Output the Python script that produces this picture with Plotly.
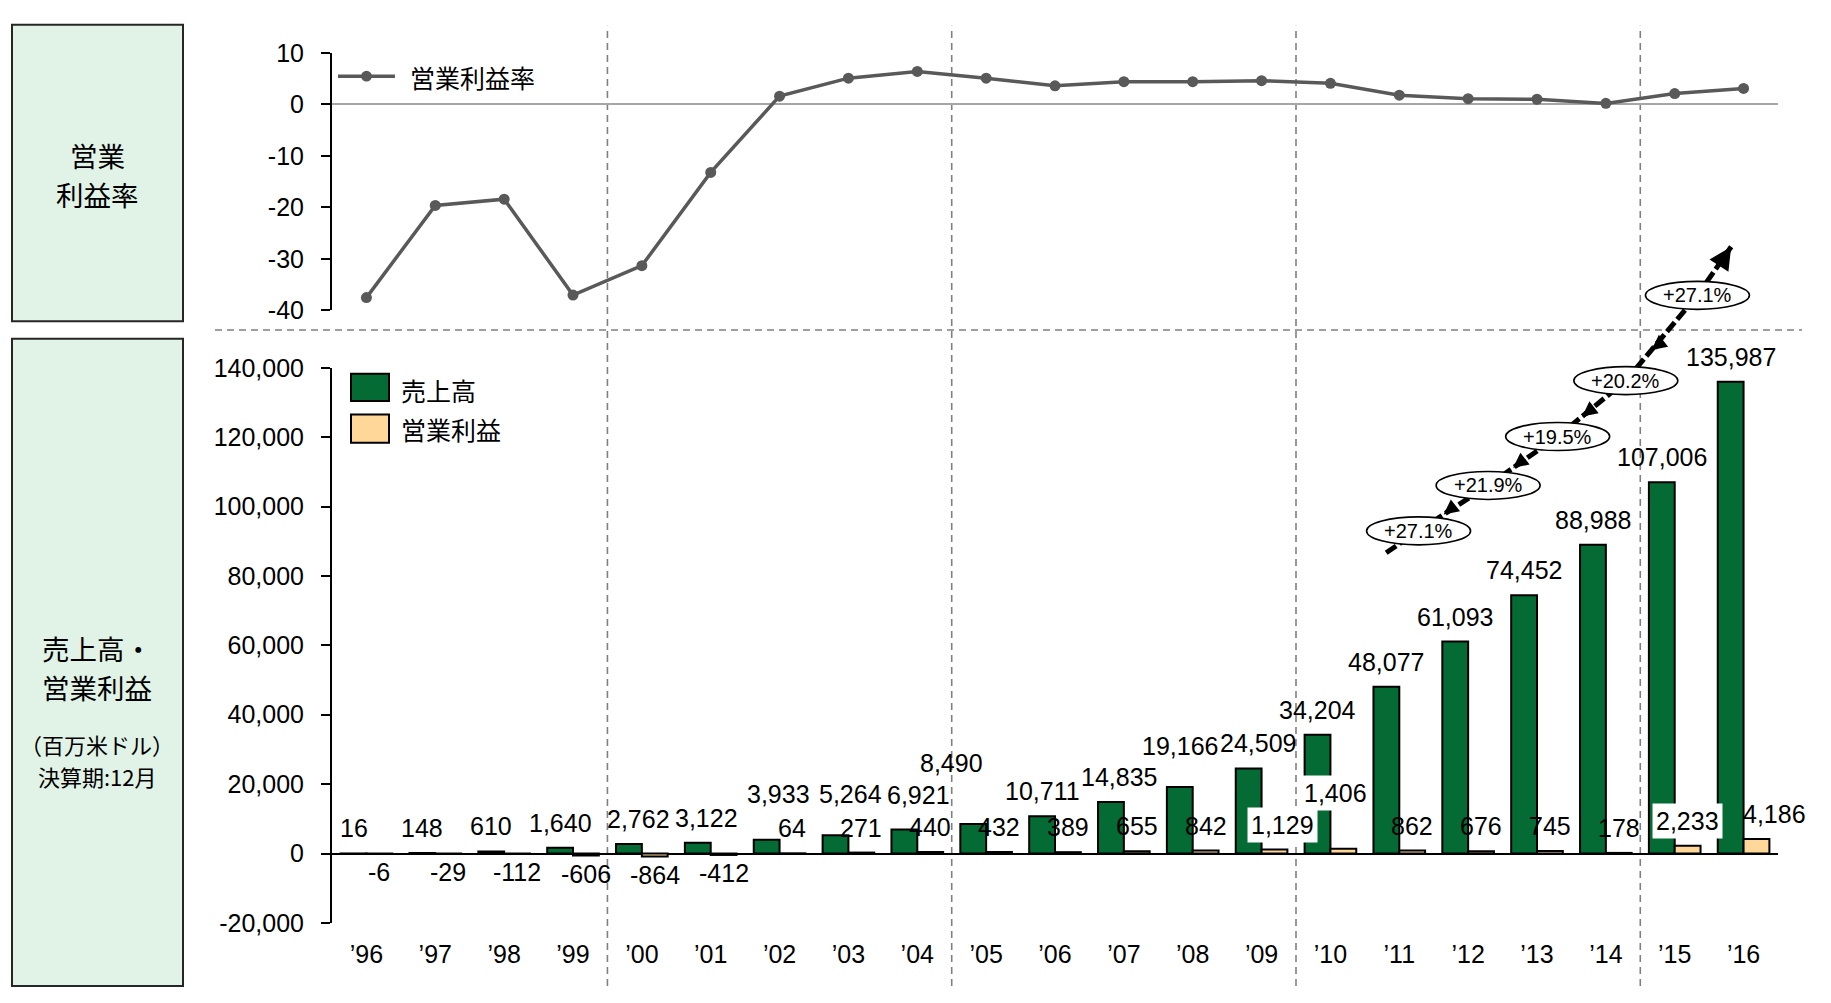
import plotly.graph_objects as go

# ---------------- data ----------------
years = ["’96", "’97", "’98", "’99", "’00", "’01", "’02", "’03", "’04", "’05", "’06",
         "’07", "’08", "’09", "’10", "’11", "’12", "’13", "’14", "’15", "’16"]
sales = [16, 148, 610, 1640, 2762, 3122, 3933, 5264, 6921, 8490, 10711,
         14835, 19166, 24509, 34204, 48077, 61093, 74452, 88988, 107006, 135987]
op_income = [-6, -29, -112, -606, -864, -412, 64, 271, 440, 432, 389,
             655, 842, 1129, 1406, 862, 676, 745, 178, 2233, 4186]
op_margin = [-37.5, -19.6, -18.4, -37.0, -31.3, -13.2, 1.6, 5.1, 6.4, 5.1, 3.6,
             4.4, 4.4, 4.6, 4.1, 1.8, 1.1, 1.0, 0.2, 2.1, 3.1]
growth_labels = ["+27.1%", "+21.9%", "+19.5%", "+20.2%", "+27.1%"]
growth_start_years = ["’11", "’12", "’13", "’14", "’15"]
period_end_years = ["’99", "’04", "’09", "’14"]
amount_ticks = [-20000, 0, 20000, 40000, 60000, 80000, 100000, 120000, 140000]
amount_tick_text = ["-20,000", "0", "20,000", "40,000", "60,000", "80,000",
                    "100,000", "120,000", "140,000"]
margin_ticks = [-40, -30, -20, -10, 0, 10]
margin_tick_text = ["-40", "-30", "-20", "-10", "0", "10"]

name_sales = "売上高"
name_op = "営業利益"
name_margin = "営業利益率"

# ---------------- style / layout constants ----------------
W, H = 1831, 1003
GREEN = "#036B33"
ORANGE = "#FFD899"
LINE_GRAY = "#595959"
BOX_FILL = "#E1F2E6"
DASH_GRAY = "#808080"
NUM_FAMILY = "Liberation Sans, Arial, sans-serif"
JP_FAMILY = "Noto Sans CJK JP, sans-serif"
NUM_SIZE = 25
BAR_W = 0.375


def fx(p):
    return p / W


def fy(p):
    return 1 - p / H


X_DOM = [fx(332), fx(1778)]
TOP_DOM = [fy(305), fy(40)]
BOT_DOM = [fy(935), fy(364)]
AMT_RANGE = [-20000, 140000]


def amount_to_paper(v):
    return BOT_DOM[0] + (v - AMT_RANGE[0]) / (AMT_RANGE[1] - AMT_RANGE[0]) * (BOT_DOM[1] - BOT_DOM[0])


idx = list(range(len(years)))
pos = {y: i for i, y in enumerate(years)}

fig = go.Figure()

fig.add_trace(go.Bar(
    x=idx, y=sales, name=name_sales, width=BAR_W, offset=-BAR_W,
    marker=dict(color=GREEN, line=dict(color="black", width=2)),
    xaxis="x", yaxis="y", showlegend=False, hoverinfo="skip"))
fig.add_trace(go.Bar(
    x=idx, y=op_income, name=name_op, width=BAR_W, offset=0,
    marker=dict(color=ORANGE, line=dict(color="black", width=2)),
    xaxis="x", yaxis="y", showlegend=False, hoverinfo="skip"))
fig.add_trace(go.Scatter(
    x=idx, y=op_margin, name=name_margin, mode="lines+markers",
    line=dict(color=LINE_GRAY, width=3.5), marker=dict(color=LINE_GRAY, size=11),
    xaxis="x2", yaxis="y2", showlegend=False, hoverinfo="skip"))

annotations = []
shapes = []

# ---- bar value labels ----
num_font = dict(family=NUM_FAMILY, size=NUM_SIZE, color="black")
sales_dy = {"’02": 21, "’03": 16, "’04": 10, "’05": 36, "’08": 16}
sales_dx = {"’00": 10, "’01": 9, "’02": 12, "’03": 15, "’04": 14, "’05": -22,
            "’07": 8, "’09": 9}
for i, (yr, v) in enumerate(zip(years, sales)):
    annotations.append(dict(
        x=i - BAR_W / 2, y=v, xref="x", yref="y", text=f"{v:,}", showarrow=False,
        yanchor="middle", xanchor="center", yshift=25 + sales_dy.get(yr, 0),
        xshift=sales_dx.get(yr, 0), font=num_font))

op_bg = {"’09", "’10", "’15"}
op_dy = {"’10": 31}
op_dx = {"’09": 8, "’10": -8, "’16": 18}
for i, (yr, v) in enumerate(zip(years, op_income)):
    shift = 25 + op_dy.get(yr, 0) if v >= 0 else -18
    ann = dict(x=i + BAR_W / 2, y=v, xref="x", yref="y", text=f"{v:,}", showarrow=False,
               yanchor="middle", xanchor="center", yshift=shift,
               xshift=op_dx.get(yr, 0), font=num_font)
    if yr in op_bg:
        ann.update(bgcolor="white", borderpad=3)
    annotations.append(ann)

# ---- growth arrow and badges (placed in paper y so they may rise above the axis) ----
badge_dx = [0.28, 0.29, 0.30, 0.29, 0.33]
badge_level = [93000, 106100, 120200, 136300, 160900]
badge_x = [pos[s] + d for s, d in zip(growth_start_years, badge_dx)]
badge_y = [amount_to_paper(v) for v in badge_level]
arrow_start = (pos["’11"] - 0.19, amount_to_paper(86700))
arrow_tip = (pos["’16"] - 0.18, amount_to_paper(174900))
path_x = [arrow_start[0]] + badge_x + [arrow_tip[0]]
path_y = [arrow_start[1]] + badge_y + [arrow_tip[1]]
for k in range(len(path_x) - 1):
    shapes.append(dict(type="line", xref="x", yref="paper",
                       x0=path_x[k], y0=path_y[k], x1=path_x[k + 1], y1=path_y[k + 1],
                       line=dict(color="black", width=5, dash="12px,4px"), layer="above"))
annotations.append(dict(x=arrow_tip[0], y=arrow_tip[1], xref="x", yref="paper", text="",
                        showarrow=True, arrowhead=2, arrowsize=0.9, arrowwidth=5,
                        arrowcolor="black", ax=-11, ay=17, standoff=0))
for k in range(len(badge_x) - 1):
    t = 0.36
    tx = badge_x[k] + t * (badge_x[k + 1] - badge_x[k])
    ty = badge_y[k] + t * (badge_y[k + 1] - badge_y[k])
    annotations.append(dict(x=tx, y=ty, xref="x", yref="paper", text="", showarrow=True,
                            arrowhead=2, arrowsize=0.6, arrowwidth=5, arrowcolor="black",
                            ax=9, ay=-7, standoff=0))
for bx, by, lab in zip(badge_x, badge_y, growth_labels):
    shapes.append(dict(type="circle", xref="x", yref="paper", xsizemode="pixel",
                       ysizemode="pixel", xanchor=bx, yanchor=by,
                       x0=-52, x1=52, y0=-14, y1=14,
                       fillcolor="white", line=dict(color="black", width=1.6), layer="above"))
    annotations.append(dict(x=bx, y=by, xref="x", yref="paper", text=lab, showarrow=False,
                            xanchor="center", yanchor="middle",
                            font=dict(family=NUM_FAMILY, size=20, color="black")))

# ---- period separators ----
for yr in period_end_years:
    xv = pos[yr] + 0.5
    shapes.append(dict(type="line", xref="x", yref="paper", x0=xv, x1=xv,
                       y0=fy(1000), y1=fy(12),
                       line=dict(color=DASH_GRAY, width=1.6, dash="7px,5px"), layer="below"))
shapes.append(dict(type="line", xref="paper", yref="paper", x0=fx(215), x1=fx(1802),
                   y0=fy(325), y1=fy(325),
                   line=dict(color=DASH_GRAY, width=1.6, dash="7px,5px"), layer="below"))

# ---- left header boxes ----
for top, bottom in [(11, 316), (334, 1000)]:
    shapes.append(dict(type="rect", xref="paper", yref="paper", x0=fx(12), x1=fx(183),
                       y0=fy(bottom), y1=fy(top), fillcolor=BOX_FILL,
                       line=dict(color="#262626", width=2), layer="below"))
box_texts = [("営業", 145, 27.5), ("利益率", 185, 27.5),
             ("売上高・", 652, 27.5), ("営業利益", 692, 27.5),
             ("（百万米ドル）", 751, 22), ("決算期:12月", 784, 22)]
for txt, yc, sz in box_texts:
    annotations.append(dict(x=fx(97), y=fy(yc), xref="paper", yref="paper", text=txt,
                            showarrow=False, xanchor="center", yanchor="middle",
                            font=dict(family=JP_FAMILY, size=sz, color="black")))

# ---- custom legends ----
shapes.append(dict(type="line", xref="paper", yref="paper", x0=fx(338), x1=fx(395),
                   y0=fy(64), y1=fy(64), line=dict(color=LINE_GRAY, width=3.5)))
shapes.append(dict(type="circle", xref="paper", yref="paper", x0=fx(361), x1=fx(372),
                   y0=fy(69.5), y1=fy(58.5), fillcolor=LINE_GRAY,
                   line=dict(color=LINE_GRAY, width=0)))
annotations.append(dict(x=fx(408), y=fy(65), xref="paper", yref="paper", text=name_margin,
                        showarrow=False, xanchor="left", yanchor="middle",
                        font=dict(family=JP_FAMILY, size=25, color="black")))
for (y0, y1, col, nm, yc) in [(370, 398, GREEN, name_sales, 387),
                              (412, 441, ORANGE, name_op, 427)]:
    shapes.append(dict(type="rect", xref="paper", yref="paper", x0=fx(351), x1=fx(389),
                       y0=fy(y1), y1=fy(y0), fillcolor=col,
                       line=dict(color="black", width=2)))
    annotations.append(dict(x=fx(399), y=fy(yc), xref="paper", yref="paper", text=nm,
                            showarrow=False, xanchor="left", yanchor="middle",
                            font=dict(family=JP_FAMILY, size=25, color="black")))

tick_font = dict(family=NUM_FAMILY, size=NUM_SIZE, color="black")
fig.update_layout(
    width=W, height=H, autosize=False, margin=dict(l=0, r=0, t=0, b=0, pad=0),
    paper_bgcolor="white", plot_bgcolor="white", barmode="overlay",
    showlegend=False,
    xaxis=dict(domain=X_DOM, anchor="y", range=[-0.5, 20.5], tickmode="array",
               tickvals=idx, ticktext=years, showgrid=False, zeroline=False,
               showline=False, ticks="", tickfont=tick_font, ticklabelstandoff=14),
    xaxis2=dict(domain=X_DOM, anchor="y2", range=[-0.5, 20.5], matches="x",
                showticklabels=False, showgrid=False, zeroline=False, showline=False,
                ticks=""),
    yaxis=dict(domain=BOT_DOM, anchor="x", range=AMT_RANGE, tickmode="array",
               tickvals=amount_ticks, ticktext=amount_tick_text, showgrid=False,
               zeroline=True, zerolinecolor="black", zerolinewidth=2,
               showline=True, linecolor="black", linewidth=2, ticks="outside",
               ticklen=9, tickwidth=2, tickcolor="black", tickfont=tick_font,
               ticklabelstandoff=12),
    yaxis2=dict(domain=TOP_DOM, anchor="x2", range=[-40, 10], tickmode="array",
                tickvals=margin_ticks, ticktext=margin_tick_text, showgrid=False,
                zeroline=True, zerolinecolor="#A6A6A6", zerolinewidth=2,
                showline=True, linecolor="black", linewidth=2, ticks="outside",
                ticklen=9, tickwidth=2, tickcolor="black", tickfont=tick_font,
                ticklabelstandoff=12),
    shapes=shapes, annotations=annotations,
)

post = (
    "var gd=document.getElementById('{plot_id}');"
    "document.documentElement.style.margin='0';document.documentElement.style.padding='0';"
    "document.documentElement.style.overflow='hidden';"
    "document.body.style.margin='0';document.body.style.padding='0';"
    "document.body.style.overflow='hidden';"
    "gd.style.position='fixed';gd.style.left='0px';gd.style.top='0px';"
)
fig.write_html("out.html", config={"displayModeBar": False}, post_script=post)
